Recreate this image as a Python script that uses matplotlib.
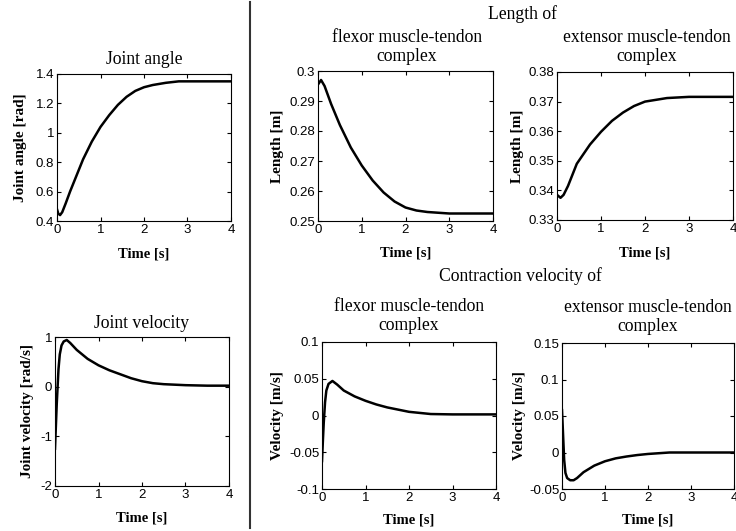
import matplotlib
matplotlib.use('Agg')
import matplotlib.pyplot as plt
from matplotlib.lines import Line2D

W, H = 736, 531

# Joint angle [rad]
t_angle = [0, 0.03, 0.07, 0.12, 0.2, 0.3, 0.45, 0.6, 0.8, 1.0, 1.2, 1.4, 1.6, 1.8, 2.0, 2.2, 2.5, 2.8, 3.0, 3.5, 4.0]
angle = [0.48, 0.45, 0.44, 0.46, 0.52, 0.60, 0.71, 0.82, 0.94, 1.04, 1.12, 1.19, 1.245, 1.285, 1.31, 1.325, 1.34, 1.35, 1.35, 1.35, 1.35]

# Flexor muscle-tendon length [m]
t_flex_len = [0, 0.07, 0.15, 0.3, 0.5, 0.75, 1.0, 1.25, 1.5, 1.75, 2.0, 2.25, 2.5, 3.0, 3.5, 4.0]
flex_len = [0.2955, 0.297, 0.295, 0.289, 0.282, 0.2745, 0.2685, 0.2635, 0.2595, 0.2565, 0.2545, 0.2535, 0.253, 0.2525, 0.2525, 0.2525]

# Extensor muscle-tendon length [m]
t_ext_len = [0, 0.08, 0.15, 0.25, 0.45, 0.75, 1.0, 1.25, 1.5, 1.75, 2.0, 2.5, 3.0, 3.5, 4.0]
ext_len = [0.3385, 0.3375, 0.3385, 0.3415, 0.349, 0.3555, 0.3598, 0.3635, 0.3663, 0.3685, 0.370, 0.3712, 0.3716, 0.3716, 0.3716]

# Joint velocity [rad/s]
t_jvel = [0, 0.02, 0.04, 0.06, 0.08, 0.11, 0.15, 0.2, 0.27, 0.35, 0.5, 0.75, 1.0, 1.25, 1.5, 1.75, 2.0, 2.25, 2.5, 3.0, 3.5, 4.0]
jvel = [-1.25, -0.8, -0.35, 0.0, 0.35, 0.65, 0.83, 0.91, 0.94, 0.88, 0.74, 0.56, 0.43, 0.33, 0.25, 0.17, 0.11, 0.07, 0.05, 0.03, 0.02, 0.02]

# Flexor contraction velocity [m/s]
t_flex_vel = [0, 0.02, 0.04, 0.07, 0.1, 0.15, 0.24, 0.35, 0.5, 0.75, 1.0, 1.25, 1.5, 1.75, 2.0, 2.5, 3.0, 4.0]
flex_vel = [-0.062, -0.035, -0.01, 0.018, 0.034, 0.043, 0.047, 0.042, 0.034, 0.026, 0.020, 0.015, 0.011, 0.008, 0.005, 0.002, 0.0015, 0.0015]

# Extensor contraction velocity [m/s]
t_ext_vel = [0, 0.02, 0.05, 0.08, 0.12, 0.19, 0.27, 0.35, 0.5, 0.75, 1.0, 1.25, 1.5, 1.75, 2.0, 2.5, 3.0, 4.0]
ext_vel = [0.058, 0.031, -0.01, -0.028, -0.035, -0.038, -0.038, -0.035, -0.027, -0.018, -0.012, -0.008, -0.0055, -0.0035, -0.002, 0.0, 0.0, 0.0]

x_ticks = [0, 1, 2, 3, 4]
x_labels = ['0', '1', '2', '3', '4']

SERIF = 'Liberation Serif'
SANS = 'Liberation Sans'

fig = plt.figure(figsize=(W / 100, H / 100), dpi=100)


def px_axes(x0, y0, x1, y1):
    # pixel box (top-left origin) -> figure axes
    return fig.add_axes([x0 / W, 1 - y1 / H, (x1 - x0) / W, (y1 - y0) / H])


def style(ax, box, yticks, ylabels, ylim, ylabel, ylab_x, xlab_y):
    x0, y0, x1, y1 = box
    ax.set_xlim(0, 4)
    ax.set_ylim(*ylim)
    ax.set_xticks(x_ticks)
    ax.set_xticklabels(x_labels)
    ax.set_yticks(yticks)
    ax.set_yticklabels(ylabels)
    ax.tick_params(direction='in', top=True, right=True, length=3, width=0.8, pad=2,
                   labelsize=9.5, colors='black')
    for lab in ax.get_xticklabels() + ax.get_yticklabels():
        lab.set_fontfamily(SANS)
    for sp in ax.spines.values():
        sp.set_linewidth(0.8)
    ax.set_xlabel('Time [s]', fontfamily=SERIF, fontweight='bold', fontsize=10.5, va='center')
    ax.set_ylabel(ylabel, fontfamily=SERIF, fontweight='bold', fontsize=11, va='center')
    ax.xaxis.set_label_coords(0.5, (y1 - xlab_y) / (y1 - y0))
    ax.yaxis.set_label_coords((ylab_x - x0) / (x1 - x0), 0.5)


def title(x, y, s):
    fig.text(x / W, 1 - y / H, s, ha='center', va='center', fontfamily=SERIF,
             fontsize=12.7, linespacing=1.2)


# Joint angle
box = (57, 74, 231, 221)
ax = px_axes(*box)
ax.plot(t_angle, angle, color='black', lw=1.8)
style(ax, box, [0.4, 0.6, 0.8, 1.0, 1.2, 1.4], ['0.4', '0.6', '0.8', '1', '1.2', '1.4'],
      (0.4, 1.4), 'Joint angle [rad]', 20, 254)
title(144, 60, 'Joint angle')

# Flexor length
box = (318, 71, 493, 221)
ax = px_axes(*box)
ax.plot(t_flex_len, flex_len, color='black', lw=1.8)
style(ax, box, [0.25, 0.26, 0.27, 0.28, 0.29, 0.30], ['0.25', '0.26', '0.27', '0.28', '0.29', '0.3'],
      (0.25, 0.30), 'Length [m]', 278, 253)
title(407, 47, 'flexor muscle-tendon\ncomplex')

# Extensor length
box = (557, 72, 733, 220)
ax = px_axes(*box)
ax.plot(t_ext_len, ext_len, color='black', lw=1.8)
style(ax, box, [0.33, 0.34, 0.35, 0.36, 0.37, 0.38], ['0.33', '0.34', '0.35', '0.36', '0.37', '0.38'],
      (0.33, 0.38), 'Length [m]', 518, 253)
title(647, 47, 'extensor muscle-tendon\ncomplex')

title(522, 14, 'Length of')

# Joint velocity
box = (55, 337, 229, 486)
ax = px_axes(*box)
ax.plot(t_jvel, jvel, color='black', lw=1.8)
style(ax, box, [-2, -1, 0, 1], ['-2', '-1', '0', '1'],
      (-2, 1), 'Joint velocity [rad/s]', 27, 518)
title(142, 323, 'Joint velocity')

# Flexor velocity
box = (322, 342, 496, 489)
ax = px_axes(*box)
ax.plot(t_flex_vel, flex_vel, color='black', lw=1.8)
style(ax, box, [-0.1, -0.05, 0, 0.05, 0.1], ['-0.1', '-0.05', '0', '0.05', '0.1'],
      (-0.1, 0.1), 'Velocity [m/s]', 278, 520)
title(409, 316, 'flexor muscle-tendon\ncomplex')

# Extensor velocity
box = (562, 343, 734, 489)
ax = px_axes(*box)
ax.plot(t_ext_vel, ext_vel, color='black', lw=1.8)
style(ax, box, [-0.05, 0, 0.05, 0.1, 0.15], ['-0.05', '0', '0.05', '0.1', '0.15'],
      (-0.05, 0.15), 'Velocity [m/s]', 520, 520)
title(648, 317, 'extensor muscle-tendon\ncomplex')

title(520, 276, 'Contraction velocity of')

# vertical separator
fig.add_artist(Line2D([250 / W, 250 / W], [1 - 528 / H, 1 - 2 / H], color='#333333', lw=1.5))

fig.savefig('out.png', dpi=100)
